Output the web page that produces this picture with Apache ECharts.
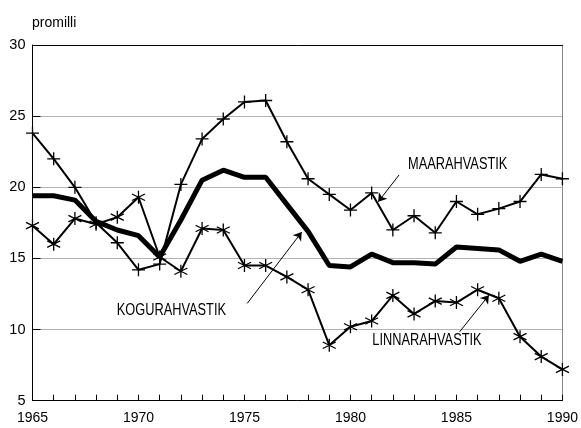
<!DOCTYPE html>
<html>
<head>
<meta charset="utf-8">
<script src="https://cdn.jsdelivr.net/npm/echarts@6/dist/echarts.min.js"></script>
<style>html,body{margin:0;padding:0;background:#fff;}#c{width:581px;height:428px;}</style>
</head>
<body>
<div id="c"></div>
<script>
const years = [1965,1966,1967,1968,1969,1970,1971,1972,1973,1974,1975,1976,1977,1978,1979,1980,1981,1982,1983,1984,1985,1986,1987,1988,1989,1990];
const maarahvastik = [23.8,22.0,20.0,17.5,16.1,14.2,14.6,20.2,23.4,24.8,26.0,26.1,23.2,20.6,19.5,18.4,19.6,17.0,18.0,16.8,19.0,18.1,18.5,19.0,20.9,20.6];
const kogurahvastik = [19.4,19.4,19.1,17.6,17.0,16.6,15.1,17.7,20.5,21.2,20.7,20.7,18.8,16.9,14.5,14.4,15.3,14.7,14.7,14.6,15.8,15.7,15.6,14.8,15.3,14.8];
const linnarahvastik = [17.3,16.0,17.8,17.4,17.9,19.3,15.1,14.1,17.1,17.0,14.5,14.5,13.7,12.8,8.9,10.2,10.6,12.4,11.1,12.0,11.9,12.8,12.2,9.5,8.1,7.2];
const yTicks = [5,10,15,20,25,30];
const unitLabel = 'promilli';
const seriesNames = ['MAARAHVASTIK','KOGURAHVASTIK','LINNARAHVASTIK'];

const font = 'Liberation Sans, Arial, sans-serif';
const pair = arr => years.map((y, i) => [y, arr[i]]);
const plusSym = 'path://M0,-6L0,6M-6,0L6,0';
const starSym = 'path://M0,-6L0,6M-5.2,-3L5.2,3M-5.2,3L5.2,-3';

const chart = echarts.init(document.getElementById('c'), null, {renderer: 'canvas'});
chart.setOption({
  backgroundColor: '#fff',
  animation: false,
  grid: {left: 32.5, right: 16, top: 45, bottom: 27.3, containLabel: false},
  xAxis: [{
    type: 'value', min: 1965, max: 1990, interval: 5,
    axisLine: {lineStyle: {color: '#000', width: 1}},
    axisTick: {inside: true, length: 6, lineStyle: {color: '#000'}},
    minorTick: {show: true, splitNumber: 5, length: 6, lineStyle: {color: '#000'}},
    axisLabel: {color: '#000', fontSize: 14, fontFamily: font, margin: 10, formatter: v => String(v)},
    splitLine: {show: false}
  }, {
    type: 'value', min: 1965, max: 1990, position: 'top',
    axisLine: {show: true, lineStyle: {color: '#000', width: 1}},
    axisTick: {show: false}, axisLabel: {show: false}, splitLine: {show: false}
  }],
  yAxis: [{
    type: 'value', min: yTicks[0], max: yTicks[yTicks.length - 1], interval: 5,
    axisLine: {show: true, lineStyle: {color: '#000', width: 1}},
    axisTick: {show: true, inside: true, length: 8, lineStyle: {color: '#000'}},
    axisLabel: {color: '#000', fontSize: 14.5, fontFamily: font, margin: 7},
    splitLine: {show: true, lineStyle: {color: '#666', width: 1, type: [1, 1]}}
  }, {
    type: 'value', min: 5, max: 30, position: 'right',
    axisLine: {show: true, lineStyle: {color: '#888', width: 1}},
    axisTick: {show: false}, axisLabel: {show: false}, splitLine: {show: false}
  }],
  series: [{
    name: seriesNames[0], type: 'line', data: pair(maarahvastik),
    symbol: plusSym, symbolSize: 13, showAllSymbol: true,
    lineStyle: {color: '#000', width: 2},
    itemStyle: {color: 'none', borderColor: '#000', borderWidth: 1.3},
    markLine: {
      silent: true, symbol: ['none', 'arrow'], symbolSize: 8,
      label: {show: false},
      lineStyle: {color: '#000', width: 1, type: 'solid'},
      data: [
        [{coord: [1982.29, 20.86]}, {coord: [1981.31, 18.98]}],
        [{coord: [1975.13, 11.84]}, {coord: [1977.70, 16.85]}],
        [{coord: [1985.15, 9.84]}, {coord: [1986.53, 12.42]}]
      ]
    }
  }, {
    name: seriesNames[2], type: 'line', data: pair(linnarahvastik),
    symbol: starSym, symbolSize: 13, showAllSymbol: true,
    lineStyle: {color: '#000', width: 2},
    itemStyle: {color: 'none', borderColor: '#000', borderWidth: 1.3}
  }, {
    name: seriesNames[1], type: 'line', data: pair(kogurahvastik),
    symbol: 'none',
    lineStyle: {color: '#000', width: 5}
  }],
  graphic: [
    {type: 'text', x: 32, y: 16, style: {text: unitLabel, fill: '#000', font: '14px ' + font}},
    {type: 'text', x: 408, y: 164.5, scaleX: 0.8, style: {text: seriesNames[0], fill: '#000', font: '16px ' + font, verticalAlign: 'middle'}},
    {type: 'text', x: 116.7, y: 310.5, scaleX: 0.8, style: {text: seriesNames[1], fill: '#000', font: '16px ' + font, verticalAlign: 'middle'}},
    {type: 'text', x: 372.3, y: 341, scaleX: 0.8, style: {text: seriesNames[2], fill: '#000', font: '16px ' + font, verticalAlign: 'middle'}}
  ]
});
</script>
</body>
</html>
